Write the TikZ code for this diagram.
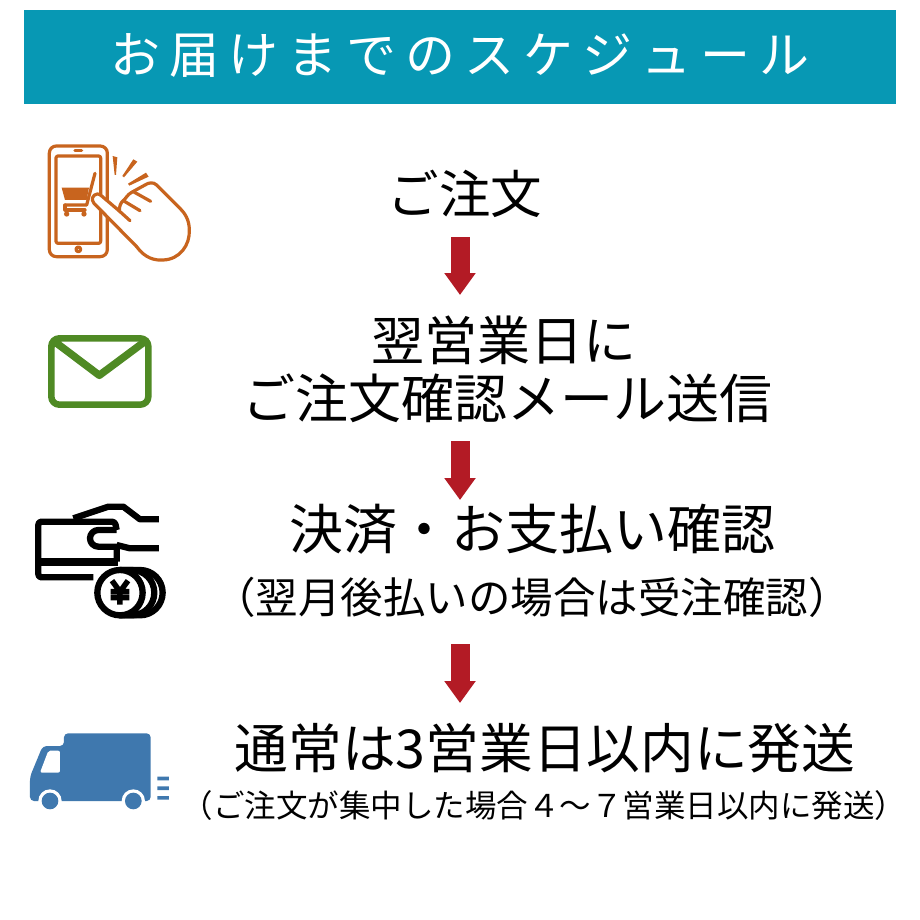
\documentclass[tikz,border=0pt]{standalone}
\usepackage{fontspec}
\setmainfont{Noto Sans CJK JP}
\usetikzlibrary{arrows.meta}
\definecolor{teal1}{HTML}{0798B4}
\definecolor{red1}{HTML}{B31B25}
\definecolor{org}{HTML}{C8641E}
\definecolor{grn}{HTML}{4F8A24}
\definecolor{blu}{HTML}{3F78AE}
\newcommand{\fs}[1]{\fontsize{#1}{#1}\selectfont}
\newcommand{\gp}{\hspace{9pt}}
\tikzset{
 lbl/.style={inner sep=0pt,text=black,anchor=center},
 flow/.style={red1,line width=19pt,-{Triangle[width=30pt,length=22pt]}},
 orgl/.style={draw=org,line width=3.2pt,line join=round,line cap=round},
 blk/.style={draw=black,line width=6.3pt,line join=round},
}
\begin{document}
\begin{tikzpicture}[x=1pt,y=-1pt]
\useasboundingbox (0,0) rectangle (920,920);
\fill[white] (0,0) rectangle (920,920);
\fill[teal1] (24,10) rectangle (896,104);
\node[lbl,text=white] (title) at (460,56) {\fs{50}お\gp 届\gp け\gp ま\gp で\gp の\gp ス\gp ケ\gp ジ\gp ュ\gp ー\gp ル};

\node[lbl] (t1) at (465,194) {\fs{51.5}ご注文};
\node[lbl] (t2) at (504,340) {\fs{53}翌営業日に};
\node[lbl] (t3) at (507,398) {\fs{53}ご注文確認メール送信};
\node[lbl] (t4) at (532,529) {\fs{54}決済・お支払い確認};
\node[lbl] (t5) at (532,597) {\fs{42.5}（翌月後払いの場合は受注確認）};
\node[lbl] (t6) at (545,748) {\fs{53.7}通常は3営業日以内に発送};
\node[lbl] (t7) at (544,806) {\fs{31.5}（ご注文が集中した場合４～７営業日以内に発送）};

\coordinate (a1) at (460,237); \coordinate (a2) at (460,295);
\coordinate (b1) at (460,441); \coordinate (b2) at (460,500);
\coordinate (c1) at (460,644); \coordinate (c2) at (460,703);
\draw[flow] (a1) -- (a2);
\draw[flow] (b1) -- (b2);
\draw[flow] (c1) -- (c2);

% phone + hand
\begin{scope}[shift={(20,130)},x=0.3333pt,y=-0.3333pt]
\draw[orgl,rounded corners=7pt] (88,48) rectangle (262,380);
\draw[orgl,rounded corners=2pt] (108,78) rectangle (242,340);
\draw[orgl] (165,62) -- (185,62);
\draw[orgl] (175,358) circle (7);
\fill[org] (125,173) -- (207,173) -- (200,210) -- (135,210) -- cycle;
\draw[orgl] (225,130) -- (200,225) -- (135,225);
\draw[orgl] (135,225) -- (135,240) -- (195,240);
\fill[org] (140,252) circle (8) (192,252) circle (8);
\fill[org] (278,78) -- (292,82) -- (288,135) -- (284,135) -- cycle;
\fill[org] (340,88) -- (352,95) -- (312,142) -- (307,138) -- cycle;
\fill[org] (378,128) -- (386,140) -- (328,167) -- (324,161) -- cycle;
\draw[orgl,fill=white] (232,192) .. controls (218,194) and (212,208) .. (222,220)
  -- (350,350) .. controls (375,385) and (405,392) .. (430,390)
  .. controls (480,388) and (510,345) .. (508,300)
  .. controls (508,270) and (495,250) .. (480,235)
  -- (410,165) .. controls (400,155) and (385,158) .. (375,165)
  -- (335,187) .. controls (322,194) and (318,205) .. (310,212)
  .. controls (302,218) and (298,228) .. (298,243)
  -- (245,198) .. controls (240,194) and (236,191) .. (232,192) -- cycle;
\draw[orgl] (298,243) -- (330,272);
\draw[orgl] (310,212) -- (360,242);
\draw[orgl] (340,185) -- (392,214);
\end{scope}

% envelope
\begin{scope}[shift={(20,320)},x=0.3333pt,y=-0.3333pt]
\draw[grn,line width=6.5pt,rounded corners=8pt,line join=round] (94,55) rectangle (385,254);
\draw[grn,line width=7.5pt,line join=round] (100,62) -- (238,166) -- (378,62);
\fill[grn] (94,55) -- (135,55) -- (100,85) -- cycle (385,55) -- (345,55) -- (385,85) -- cycle;
\end{scope}

% card, hand and coins
\begin{scope}[shift={(20,480)},x=0.3333pt,y=-0.3333pt]
\draw[blk,rounded corners=3pt] (220,292) -- (55,292) -- (55,125) -- (285,125) -- (290,150);
\draw[blk] (290,150) -- (235,150) arc[start angle=-90,end angle=-270,radius=25] -- (290,200) -- (290,245);
\fill (60,235) rectangle (295,258);
\draw[blk] (160,115) -- (265,80) -- (310,80) -- (360,118) -- (417,118);
\draw[blk] (290,195) -- (330,205) -- (417,205);
\draw[blk,fill=white] (360,270) arc[start angle=-90,end angle=90,radius=68] -- (300,406) -- (300,270) -- cycle;
\draw[blk,fill=white] (335,270) arc[start angle=-90,end angle=90,radius=68] -- (300,406) -- (300,270) -- cycle;
\draw[blk,fill=white] (300,338) circle (68);
\draw[black,line width=5.5pt] (276,302) -- (300,335) -- (324,302) (300,335) -- (300,374) (272,335) -- (328,335) (272,353) -- (328,353);
\end{scope}

% truck
\begin{scope}[shift={(20,720)},x=0.3333pt,y=-0.3333pt]
\fill[blu,rounded corners=4pt] (30,243) -- (30,170) -- (68,78) -- (132,78) -- (132,40) -- (392,40) -- (392,243) -- cycle;
\fill[white,rounded corners=2pt] (60,158) -- (85,92) -- (120,92) -- (120,158) -- cycle;
\fill[white] (90,243) circle (35) (340,243) circle (35);
\fill[blu] (90,243) circle (25) (340,243) circle (25);
\fill[blu] (412,170) rectangle (447,181) (412,199) rectangle (447,210) (412,228) rectangle (447,239);
\end{scope}
\end{tikzpicture}
\end{document}
